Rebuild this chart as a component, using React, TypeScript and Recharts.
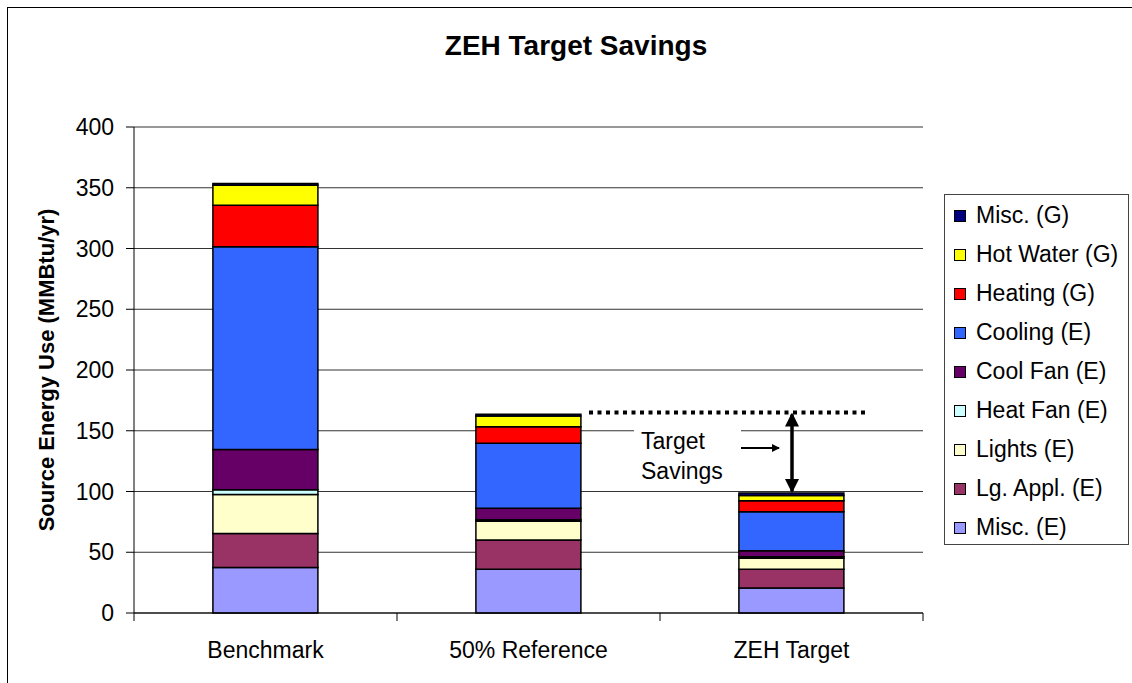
import React from 'react';
import { BarChart, Bar, XAxis, YAxis, CartesianGrid } from 'recharts';

const categories = ['Benchmark', '50% Reference', 'ZEH Target'];

// stacked bottom -> top, values in MMBtu/yr
const miscE = [37.5, 36, 20.5];
const lgAppl = [28, 24, 15.5];
const lights = [32, 15.5, 9];
const heatFan = [4, 1.2, 1.3];
const coolFan = [33, 9.5, 5];
const cooling = [167, 53.5, 32];
const heating = [34, 13.5, 9];
const hotWater = [16.5, 9, 4.5];
const miscG = [1.5, 1.4, 2];

const yTicks = [0, 50, 100, 150, 200, 250, 300, 350, 400];
const targetLevel = 165;

const series = [
  { key: 'miscE', name: 'Misc. (E)', values: miscE, color: '#9999FF' },
  { key: 'lgAppl', name: 'Lg. Appl. (E)', values: lgAppl, color: '#993366' },
  { key: 'lights', name: 'Lights (E)', values: lights, color: '#FFFFCC' },
  { key: 'heatFan', name: 'Heat Fan (E)', values: heatFan, color: '#CCFFFF' },
  { key: 'coolFan', name: 'Cool Fan (E)', values: coolFan, color: '#660066' },
  { key: 'cooling', name: 'Cooling (E)', values: cooling, color: '#3366FF' },
  { key: 'heating', name: 'Heating (G)', values: heating, color: '#FF0000' },
  { key: 'hotWater', name: 'Hot Water (G)', values: hotWater, color: '#FFFF00' },
  { key: 'miscG', name: 'Misc. (G)', values: miscG, color: '#000080' },
];

const data = categories.map((name, i) => {
  const row: Record<string, string | number> = { name };
  series.forEach((s) => (row[s.key] = s.values[i]));
  return row;
});

const zehTotal = series.reduce((sum, s) => sum + s.values[2], 0);

const FONT = '"Liberation Sans", Arial, sans-serif';
const W = 1130;
const H = 676;
const M = { top: 119, right: 215, left: 26, bottom: 0 };
const Y_AXIS_W = 100;
const X_AXIS_H = 71;
const plotLeft = M.left + Y_AXIS_W;
const plotRight = W - M.right;
const plotTop = M.top;
const plotBottom = H - M.bottom - X_AXIS_H;
const yPix = (v: number) => plotTop + (1 - v / 400) * (plotBottom - plotTop);
const band = (plotRight - plotLeft) / categories.length;

const XTick = (props: any) => {
  const { x, y, payload, index } = props;
  return (
    <g>
      <line x1={x - band / 2} x2={x - band / 2} y1={y} y2={y + 8} stroke="#000" />
      {index === categories.length - 1 && (
        <line x1={x + band / 2} x2={x + band / 2} y1={y} y2={y + 8} stroke="#000" />
      )}
      <text x={x} y={y + 45} textAnchor="middle" fontSize={23} fill="#000" fontFamily={FONT}>
        {payload.value}
      </text>
    </g>
  );
};

export default function App() {
  const ty = yPix(targetLevel);
  const arrowX = 784;
  return (
    <div style={{ position: 'absolute', left: 7, top: 7, width: W, height: H, border: '1px solid #000', background: '#fff', fontFamily: FONT }}>
      <div style={{ position: 'absolute', left: 0, width: 1136, top: 22, textAlign: 'center', fontWeight: 'bold', fontSize: 28, color: '#000' }}>
        ZEH Target Savings
      </div>
      <BarChart width={W} height={H} data={data} margin={M} barCategoryGap="30%">
        <CartesianGrid vertical={false} stroke="#333" />
        <XAxis
          dataKey="name"
          height={X_AXIS_H}
          tickLine={false}
          tickSize={0}
          tickMargin={0}
          axisLine={{ stroke: '#000' }}
          tick={<XTick />}
          interval={0}
        />
        <YAxis
          width={Y_AXIS_W}
          domain={[0, 400]}
          ticks={yTicks}
          tickSize={8}
          tickMargin={12}
          tickLine={{ stroke: '#000' }}
          axisLine={{ stroke: '#000' }}
          tick={{ fill: '#000', fontSize: 23, fontFamily: FONT }}
        />
        {series.map((s) => (
          <Bar
            key={s.key}
            dataKey={s.key}
            name={s.name}
            stackId="a"
            fill={s.color}
            stroke="#000"
            strokeWidth={1.5}
            isAnimationActive={false}
          />
        ))}
      </BarChart>
      <svg width={W} height={H} style={{ position: 'absolute', left: 0, top: 0, pointerEvents: 'none' }}>
        <defs>
          <marker id="ah" markerWidth="8" markerHeight="8" refX="7" refY="4" orient="auto" markerUnits="userSpaceOnUse">
            <path d="M0,0 L8,4 L0,8 z" fill="#000" />
          </marker>
          <marker id="big" markerWidth="14" markerHeight="18" refX="12" refY="7" orient="auto-start-reverse" markerUnits="userSpaceOnUse">
            <path d="M0,0 L14,7 L0,14 z" fill="#000" />
          </marker>
        </defs>
        <text
          transform={`translate(46, ${(plotTop + plotBottom) / 2}) rotate(-90)`}
          textAnchor="middle"
          fontSize={22}
          fontWeight="bold"
          fontFamily={FONT}
          fill="#000"
        >
          Source Energy Use (MMBtu/yr)
        </text>
        <line x1={581} x2={861} y1={ty} y2={ty} stroke="#000" strokeWidth={4} strokeDasharray="4 4.5" />
        <rect x={626} y={410} width={107} height={66} fill="#fff" />
        <text x={633} y={441} fontSize={23} fontFamily={FONT} fill="#000">Target</text>
        <text x={633} y={471} fontSize={23} fontFamily={FONT} fill="#000">Savings</text>
        <line x1={733} x2={771} y1={440} y2={440} stroke="#000" strokeWidth={2} markerEnd="url(#ah)" />
        <line
          x1={arrowX}
          x2={arrowX}
          y1={ty + 2}
          y2={yPix(zehTotal) - 2}
          stroke="#000"
          strokeWidth={3.5}
          markerStart="url(#big)"
          markerEnd="url(#big)"
        />
      </svg>
      <div
        style={{
          position: 'absolute',
          left: 936,
          top: 186,
          width: 185,
          height: 351,
          border: '1px solid #444',
          background: '#fff',
          boxSizing: 'border-box',
          paddingTop: 1,
        }}
      >
        {[...series].reverse().map((s) => (
          <div key={s.key} style={{ display: 'flex', alignItems: 'center', height: 39, fontSize: 23, color: '#000', whiteSpace: 'nowrap' }}>
            <span style={{ display: 'inline-block', width: 10, height: 10, background: s.color, border: '1px solid #000', marginLeft: 9, marginRight: 10, flexShrink: 0 }} />
            {s.name}
          </div>
        ))}
      </div>
    </div>
  );
}
